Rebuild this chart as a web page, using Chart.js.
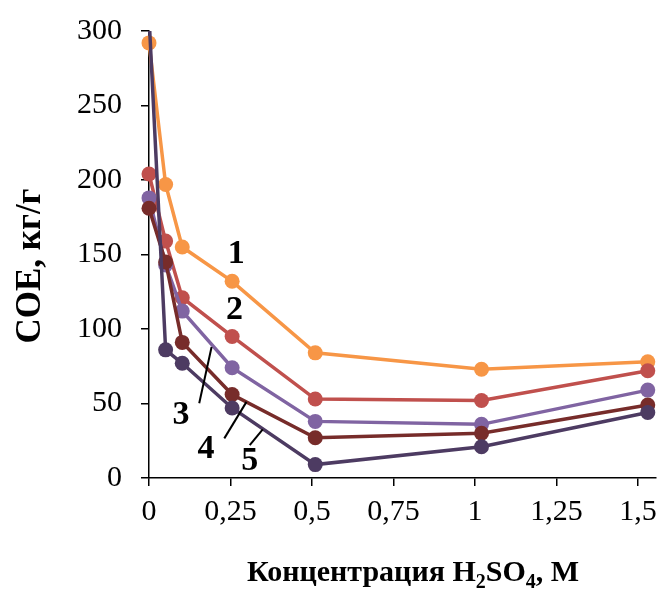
<!DOCTYPE html>
<html>
<head>
<meta charset="utf-8">
<script src="https://cdn.jsdelivr.net/npm/chart.js@4.4.1/dist/chart.umd.min.js"></script>
<style>
  html, body { margin: 0; padding: 0; background: #fff; }
  #wrap { width: 665px; height: 592px; }
</style>
</head>
<body>
<div id="wrap"><canvas id="c" width="665" height="592"></canvas></div>
<script>
// Concentration of H2SO4, M
const concentrations = [0, 0.051, 0.102, 0.255, 0.51, 1.02, 1.53];
// Sorption capacity, kg/g
const series1 = [292, 197, 155, 132, 84, 73, 78];
const series2 = [204, 159, 121, 95, 53, 52, 72];
const series3 = [188, 143, 112, 74, 38, 36, 59];
const series4 = [181, 145, 91, 56, 27, 30, 49];
const series5 = [310, 86, 77, 47, 9, 21, 44];
const seriesNames = ['1', '2', '3', '4', '5'];
const seriesColors = ['#F79646', '#C0504D', '#8064A2', '#772C2A', '#4D3B62'];
const xTicks = [0, 0.25, 0.5, 0.75, 1, 1.25, 1.5];
const yTicks = [0, 50, 100, 150, 200, 250, 300];

// curve labels (data coordinates) and leader lines
const labelX = [0.268, 0.262, 0.098, 0.175, 0.309];
const labelY = [152.3, 114.1, 43.9, 21.4, 13.4];
const leaders = [
  null, null,
  [0.154, 50.2, 0.192, 87.9],
  [0.231, 26.6, 0.299, 51.1],
  [0.309, 22.1, 0.349, 32.6]
];

const allSeries = [series1, series2, series3, series4, series5];

const datasets = allSeries.map((s, i) => ({
  label: seriesNames[i],
  data: s.map((v, j) => ({ x: concentrations[j], y: v })),
  borderColor: seriesColors[i],
  backgroundColor: seriesColors[i],
  pointBackgroundColor: seriesColors[i],
  pointBorderColor: seriesColors[i],
  borderWidth: 3.5,
  pointRadius: 7.5,
  pointBorderWidth: 0,
  pointHoverRadius: 7.5,
  tension: 0,
  order: 5 - i,
  clip: { left: 20, top: 0, right: 20, bottom: 20 }
}));

const fmt = v => String(v).replace('.', ',');

const annotPlugin = {
  id: 'annot',
  afterDatasetsDraw(chart) {
    const ctx = chart.ctx;
    const xs = chart.scales.x, ys = chart.scales.y;
    ctx.save();
    ctx.fillStyle = '#000';
    ctx.strokeStyle = '#000';
    ctx.lineWidth = 2;
    const fs = 34;
    ctx.font = 'bold ' + fs + 'px "Liberation Serif", "Times New Roman", serif';
    ctx.textAlign = 'center';
    ctx.textBaseline = 'alphabetic';
    for (let i = 0; i < seriesNames.length; i++) {
      const px = xs.getPixelForValue(labelX[i]);
      const py = ys.getPixelForValue(labelY[i]);
      ctx.fillText(seriesNames[i], px, py + fs * 0.338);
      const L = leaders[i];
      if (L) {
        ctx.beginPath();
        ctx.moveTo(xs.getPixelForValue(L[0]), ys.getPixelForValue(L[1]));
        ctx.lineTo(xs.getPixelForValue(L[2]), ys.getPixelForValue(L[3]));
        ctx.stroke();
      }
    }
    ctx.restore();
  },
  afterDraw(chart) {
    const ctx = chart.ctx;
    ctx.save();
    ctx.fillStyle = '#000';
    // Y title
    ctx.font = 'bold 35px "Liberation Serif", "Times New Roman", serif';
    ctx.textAlign = 'center';
    ctx.textBaseline = 'middle';
    ctx.translate(31, 266);
    ctx.rotate(-Math.PI / 2);
    ctx.fillText('СОЕ, кг/г', 0, 0);
    ctx.restore();

    // X title with subscripts
    ctx.save();
    ctx.fillStyle = '#000';
    const big = 'bold 30px "Liberation Serif", "Times New Roman", serif';
    const small = 'bold 20px "Liberation Serif", "Times New Roman", serif';
    const parts = [
      ['Концентрация H', big, 0],
      ['2', small, 7],
      ['SO', big, 0],
      ['4', small, 7],
      [', М', big, 0]
    ];
    let total = 0;
    parts.forEach(p => { ctx.font = p[1]; total += ctx.measureText(p[0]).width; });
    let x = 413 - total / 2;
    const base = 581;
    ctx.textBaseline = 'alphabetic';
    ctx.textAlign = 'left';
    parts.forEach(p => {
      ctx.font = p[1];
      ctx.fillText(p[0], x, base + p[2]);
      x += ctx.measureText(p[0]).width;
    });
    ctx.restore();
  }
};

new Chart(document.getElementById('c'), {
  type: 'line',
  data: { datasets },
  options: {
    responsive: false,
    animation: false,
    events: [],
    layout: { padding: { left: 0, right: 1, top: 12, bottom: 0 } },
    plugins: { legend: { display: false }, tooltip: { enabled: false } },
    scales: {
      x: {
        type: 'linear',
        min: 0,
        max: 1.553,
        afterBuildTicks(scale) { scale.ticks = xTicks.map(v => ({ value: v })); },
        afterFit(scale) { scale.height = 114; },
        ticks: {
          autoSkip: false,
          maxRotation: 0,
          padding: 8,
          color: '#000',
          font: { family: '"Liberation Serif", "Times New Roman", serif', size: 30 },
          callback: v => fmt(v)
        },
        grid: { display: true, drawOnChartArea: false, drawTicks: true, tickLength: 8, color: '#000', lineWidth: 1.5 },
        border: { display: true, color: '#000', width: 1.5 }
      },
      y: {
        type: 'linear',
        min: 0,
        max: 300,
        afterBuildTicks(scale) { scale.ticks = yTicks.map(v => ({ value: v })); },
        afterFit(scale) { scale.width = 149; },
        ticks: {
          padding: 19,
          color: '#000',
          font: { family: '"Liberation Serif", "Times New Roman", serif', size: 30, lineHeight: 0.8 },
          callback: v => fmt(v)
        },
        grid: { display: true, drawOnChartArea: false, drawTicks: true, tickLength: 8, color: '#000', lineWidth: 1.5 },
        border: { display: true, color: '#000', width: 1.5 }
      }
    }
  },
  plugins: [annotPlugin]
});
</script>
</body>
</html>
